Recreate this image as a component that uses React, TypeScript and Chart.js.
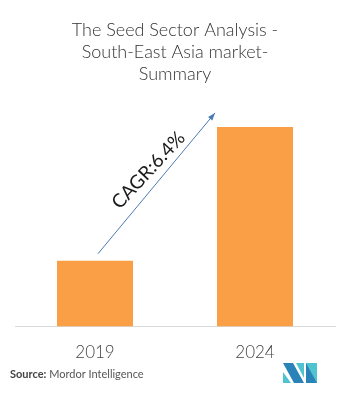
import React, { useEffect, useRef } from "react";
import { Chart, registerables } from "chart.js";

Chart.register(...registerables);

const categories = ["2019", "2024"];
const values = [33, 100];
const titleLines = ["The Seed Sector Analysis -", "South-East Asia market-", "Summary"];
const cagrLabel = "CAGR:6.4%";
const sourceBold = "Source:";
const sourceText = " Mordor Intelligence";

const FONT = "Lato, 'Open Sans', sans-serif";

const overlay = {
  id: "overlay",
  afterDraw(chart: any) {
    const ctx = chart.ctx as CanvasRenderingContext2D;
    const xs = chart.scales.x;
    const ys = chart.scales.y;
    const x1 = xs.getPixelForValue(0) + 3;
    const y1 = ys.getPixelForValue(values[0]) - 7;
    const x2 = xs.getPixelForValue(1) - 40;
    const y2 = ys.getPixelForValue(values[1]) - 14;
    ctx.save();
    ctx.strokeStyle = "#4a7ab5";
    ctx.fillStyle = "#4a7ab5";
    ctx.lineWidth = 1;
    ctx.beginPath();
    ctx.moveTo(x1, y1);
    ctx.lineTo(x2, y2);
    ctx.stroke();
    const ang = Math.atan2(y2 - y1, x2 - x1);
    const hl = 8;
    ctx.beginPath();
    ctx.moveTo(x2, y2);
    ctx.lineTo(x2 - hl * Math.cos(ang - 0.35), y2 - hl * Math.sin(ang - 0.35));
    ctx.lineTo(x2 - hl * Math.cos(ang + 0.35), y2 - hl * Math.sin(ang + 0.35));
    ctx.closePath();
    ctx.fill();
    const mx = (x1 + x2) / 2 - 8;
    const my = (y1 + y2) / 2 - 13;
    ctx.translate(mx, my);
    ctx.rotate(-0.82);
    ctx.font = `19px ${FONT}`;
    ctx.fillStyle = "#1a1a1a";
    ctx.textAlign = "center";
    ctx.textBaseline = "middle";
    ctx.fillText(cagrLabel, 0, 0);
    ctx.restore();

    ctx.save();
    ctx.textBaseline = "middle";
    ctx.textAlign = "left";
    ctx.font = `bold 11px ${FONT}`;
    ctx.fillStyle = "#444";
    ctx.fillText(sourceBold, 10, 374);
    const w = ctx.measureText(sourceBold).width;
    ctx.font = `11px ${FONT}`;
    ctx.fillStyle = "#555";
    ctx.fillText(sourceText, 10 + w, 374);
    const teal = "#4fc3cf";
    const blue = "#2a83b8";
    const poly = (pts: number[][], c: string) => {
      ctx.beginPath();
      ctx.moveTo(pts[0][0], pts[0][1]);
      for (let i = 1; i < pts.length; i++) ctx.lineTo(pts[i][0], pts[i][1]);
      ctx.closePath();
      ctx.fillStyle = c;
      ctx.fill();
    };
    poly([[283, 372], [283, 383], [291, 383]], teal);
    poly([[283, 363], [293, 363], [304, 383], [294, 383]], blue);
    poly([[296, 363], [304, 363], [304, 378]], teal);
    poly([[306, 363], [317, 363], [317, 383], [306, 383]], teal);
    poly([[306, 363], [317, 383], [306, 383]], blue);
    ctx.restore();
  },
};

export default function App() {
  const ref = useRef<HTMLCanvasElement | null>(null);
  useEffect(() => {
    if (!ref.current) return;
    const chart = new Chart(ref.current, {
      type: "bar",
      data: {
        labels: categories,
        datasets: [
          {
            data: values,
            backgroundColor: "#fb9f47",
            borderWidth: 0,
            barPercentage: 0.475,
            categoryPercentage: 1,
          },
        ],
      },
      options: {
        animation: false,
        responsive: false,
        layout: { padding: { left: 15, right: 18, top: 0, bottom: 22 } },
        plugins: {
          legend: { display: false },
          tooltip: { enabled: false },
          title: {
            display: true,
            text: titleLines,
            color: "#333",
            font: { family: FONT, size: 18, weight: 300, lineHeight: 1.22 },
            padding: { top: 19, bottom: 42 },
          },
        },
        scales: {
          x: {
            grid: { display: false },
            border: { display: true, color: "#d9d9d9", width: 1 },
            ticks: { color: "#444", font: { family: FONT, size: 17, weight: 300 }, padding: 8 },
          },
          y: {
            display: false,
            min: 0,
            max: 100,
          },
        },
      },
      plugins: [overlay],
    });
    return () => chart.destroy();
  }, []);
  return (
    <div style={{ position: "absolute", left: 0, top: 0, width: 353, height: 393, background: "#fff" }}>
      <canvas ref={ref} width={353} height={393} />
    </div>
  );
}
